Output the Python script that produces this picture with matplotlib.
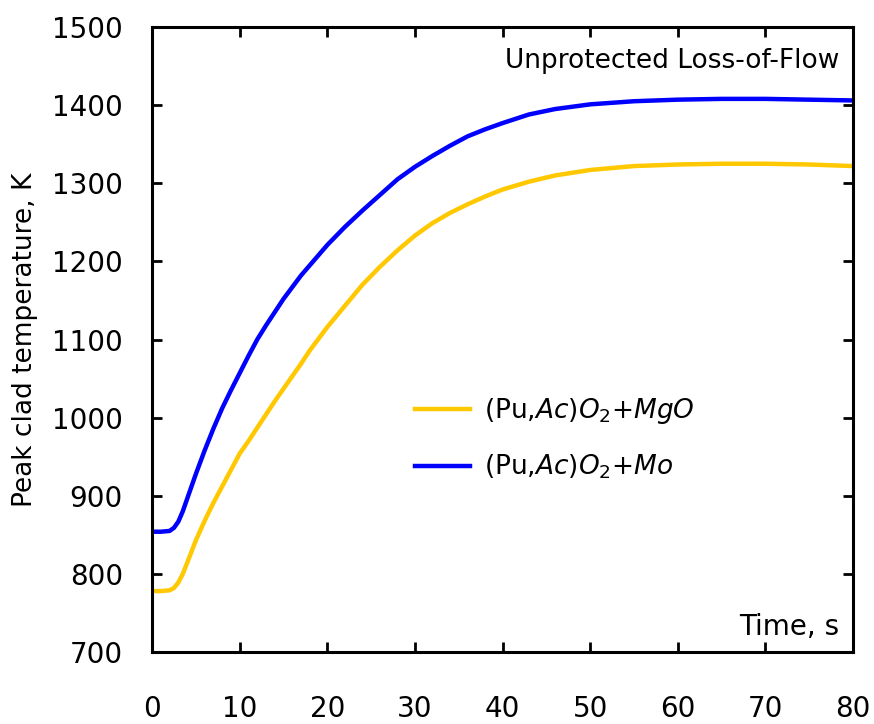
import numpy as np
import matplotlib
matplotlib.use('Agg')
import matplotlib.pyplot as plt

plt.rcParams['font.family'] = ['DejaVu Sans']
plt.rcParams['mathtext.fontset'] = 'dejavusans'

# time, s
t_mo = [0, 1, 2, 2.5, 3, 3.5, 4, 5, 6, 7, 8, 9, 10, 11, 12, 13, 14, 15, 16, 17, 18, 19, 20,
        22, 24, 26, 28, 30, 32, 34, 36, 38, 40, 43, 46, 50, 55, 60, 65, 70, 75, 80]
temp_mo = [854, 854, 855, 859, 867, 880, 896, 928, 958, 986, 1012, 1035, 1057, 1079, 1100, 1118,
           1135, 1152, 1167, 1182, 1195, 1208, 1221, 1244, 1265, 1285, 1305, 1321, 1335,
           1348, 1360, 1369, 1377, 1388, 1395, 1401, 1405, 1407, 1408, 1408, 1407, 1406]

t_mgo = t_mo
temp_mgo = [778, 778, 779, 782, 789, 800, 814, 843, 868, 891, 912, 933, 954, 970, 987, 1004,
            1021, 1037, 1053, 1069, 1086, 1101, 1116, 1143, 1170, 1193, 1214, 1233, 1249,
            1262, 1273, 1283, 1292, 1302, 1310, 1317, 1322, 1324, 1325, 1325, 1324, 1322]

labels = [r'(Pu,$\mathit{Ac}$)$\mathit{O}_2$+$\mathit{MgO}$',
          r'(Pu,$\mathit{Ac}$)$\mathit{O}_2$+$\mathit{Mo}$']

fig = plt.figure(figsize=(8.74, 7.24), dpi=100)
ax = fig.add_axes([0.174, 0.0994, 0.802, 0.8633])

ax.plot(t_mgo, temp_mgo, color='#FFC800', lw=3.2, label=labels[0])
ax.plot(t_mo, temp_mo, color='#0000FF', lw=3.2, label=labels[1])

ax.set_xlim(0, 80)
ax.set_ylim(700, 1500)
ax.set_xticks(np.arange(0, 81, 10))
ax.set_yticks(np.arange(700, 1501, 100))

for s in ax.spines.values():
    s.set_linewidth(2.2)
ax.tick_params(direction='in', length=7, width=2, top=True, right=True, labelsize=20)
ax.tick_params(axis='x', pad=31)
ax.tick_params(axis='y', pad=21)

ax.set_ylabel('Peak clad temperature, K', fontsize=19, labelpad=10)
ax.text(0.98, 0.945, 'Unprotected Loss-of-Flow', transform=ax.transAxes,
        ha='right', va='center', fontsize=19)
ax.text(0.98, 0.04, 'Time, s', transform=ax.transAxes,
        ha='right', va='center', fontsize=20)

ax.legend(loc='center left', bbox_to_anchor=(0.375, 0.341), frameon=False,
          fontsize=19, handlelength=2.1, labelspacing=1.0, handletextpad=0.5,
          borderpad=0, borderaxespad=0)

fig.savefig('out.png', dpi=100)
